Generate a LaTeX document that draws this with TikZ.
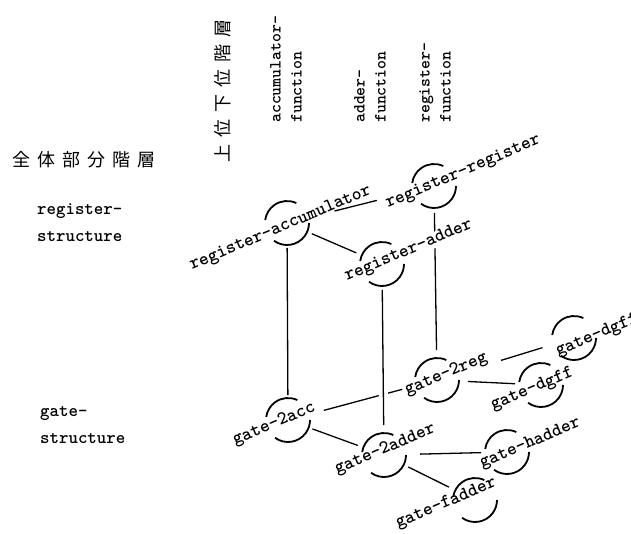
\documentclass[tikz,border=0pt]{standalone}
\usepackage{fontspec}
\newfontfamily\jpfont{Noto Sans CJK JP}
\newfontfamily\tagfont{lmmonolt10-bold.otf}
\usetikzlibrary{calc}

\begin{document}
\begin{tikzpicture}[x=1pt, y=1pt,
    hub/.style={circle, minimum size=44pt, inner sep=0pt, outer sep=0pt},
    tag/.style={rotate=23, anchor=base west, inner sep=0pt, font=\fontsize{18.6}{22}\selectfont\tagfont},
    ring/.style={line width=1.8pt},
    edge/.style={line width=1.3pt},
    side/.style={align=left, anchor=base west, inner sep=0pt, font=\fontsize{18}{27}\selectfont\tagfont},
    head/.style={rotate=90, align=left, anchor=south west, inner sep=0pt, font=\fontsize{17}{21}\selectfont\tagfont},
]
\useasboundingbox (0,0) rectangle (631,533);

% hierarchy titles
\node[anchor=west, inner sep=0pt, font=\fontsize{18}{18}\selectfont\jpfont] (whole) at (12,373)
    {全\kern7pt 体\kern7pt 部\kern7pt 分\kern7pt 階\kern7pt 層};
\node[rotate=90, anchor=west, inner sep=0pt, font=\fontsize{18}{18}\selectfont\jpfont] (updown) at (223,370)
    {上\kern7pt 位\kern7pt 下\kern7pt 位\kern7pt 階\kern7pt 層};

\node[head] (hacc) at (302,410) {accumulator-\\function};
\node[head] (hadd) at (386,410) {adder-\\function};
\node[head] (hreg) at (451,410) {register-\\function};

\node[side] (sreg) at (37,291) {register-\\structure};
\node[side] (sgate) at (40,90) {gate-\\structure};

% structure nodes
\node[hub] (racc) at (287,310) {};
\node[hub] (rreg) at (434,347) {};
\node[hub] (radd) at (382,269) {};
\node[hub] (gacc) at (288,113) {};
\node[hub] (gadd) at (384,78) {};
\node[hub] (greg) at (437,153) {};
\node[hub] (gffa) at (574,195) {};
\node[hub] (gffb) at (541,148) {};
\node[hub] (ghad) at (507,81) {};
\node[hub] (gfad) at (475,33) {};

% links
\draw[edge, shorten <=27pt, shorten >=37pt] (racc) -- (rreg);
\draw[edge, shorten <=5pt, shorten >=6pt] (racc) -- (radd);
\draw[edge, shorten <=3pt, shorten >=3pt] (racc) -- (gacc);
\draw[edge, shorten <=5pt, shorten >=8pt] (rreg) -- (greg);
\draw[edge, shorten <=15pt, shorten >=14pt] (gacc) -- (greg);
\draw[edge, preaction={draw=white, line width=9pt}, shorten <=4pt, shorten >=8pt] (radd) -- (gadd);
\draw[edge, shorten <=4pt, shorten >=6pt] (gacc) -- (gadd);
\draw[edge, shorten <=45pt, shorten >=11pt] (greg) -- (gffa);
\draw[edge, shorten <=9pt, shorten >=4pt] (greg) -- (gffb);
\draw[edge, shorten <=14pt, shorten >=4pt] (gadd) -- (ghad);
\draw[edge, shorten <=5pt, shorten >=7pt] (gadd) -- (gfad);

% names
\node[tag] (racc-l) at (192,263) {register-accumulator};
\node[tag] (rreg-l) at (388,325) {register-register};
\node[tag, fill=white] (radd-l) at (347,252) {register-adder};
\node[tag] (gacc-l) at (235,88) {gate-2acc};
\node[tag] (gadd-l) at (337,59) {gate-2adder};
\node[tag] (greg-l) at (407,138) {gate-2reg};
\node[tag] (gffa-l) at (558,177) {gate-dgff};
\node[tag] (gffb-l) at (493,123) {gate-dgff};
\node[tag] (ghad-l) at (482,65) {gate-hadder};
\node[tag] (gfad-l) at (398,5) {gate-fadder};

% broken circles
\foreach \n in {racc,rreg,radd,gacc,gadd,greg,gffa,gffb,ghad,gfad} {
  \draw[ring] (\n.65) arc[start angle=65, end angle=172, radius=22pt];
  \draw[ring] (\n.234) arc[start angle=234, end angle=360, radius=22pt];
}
\end{tikzpicture}
\end{document}
